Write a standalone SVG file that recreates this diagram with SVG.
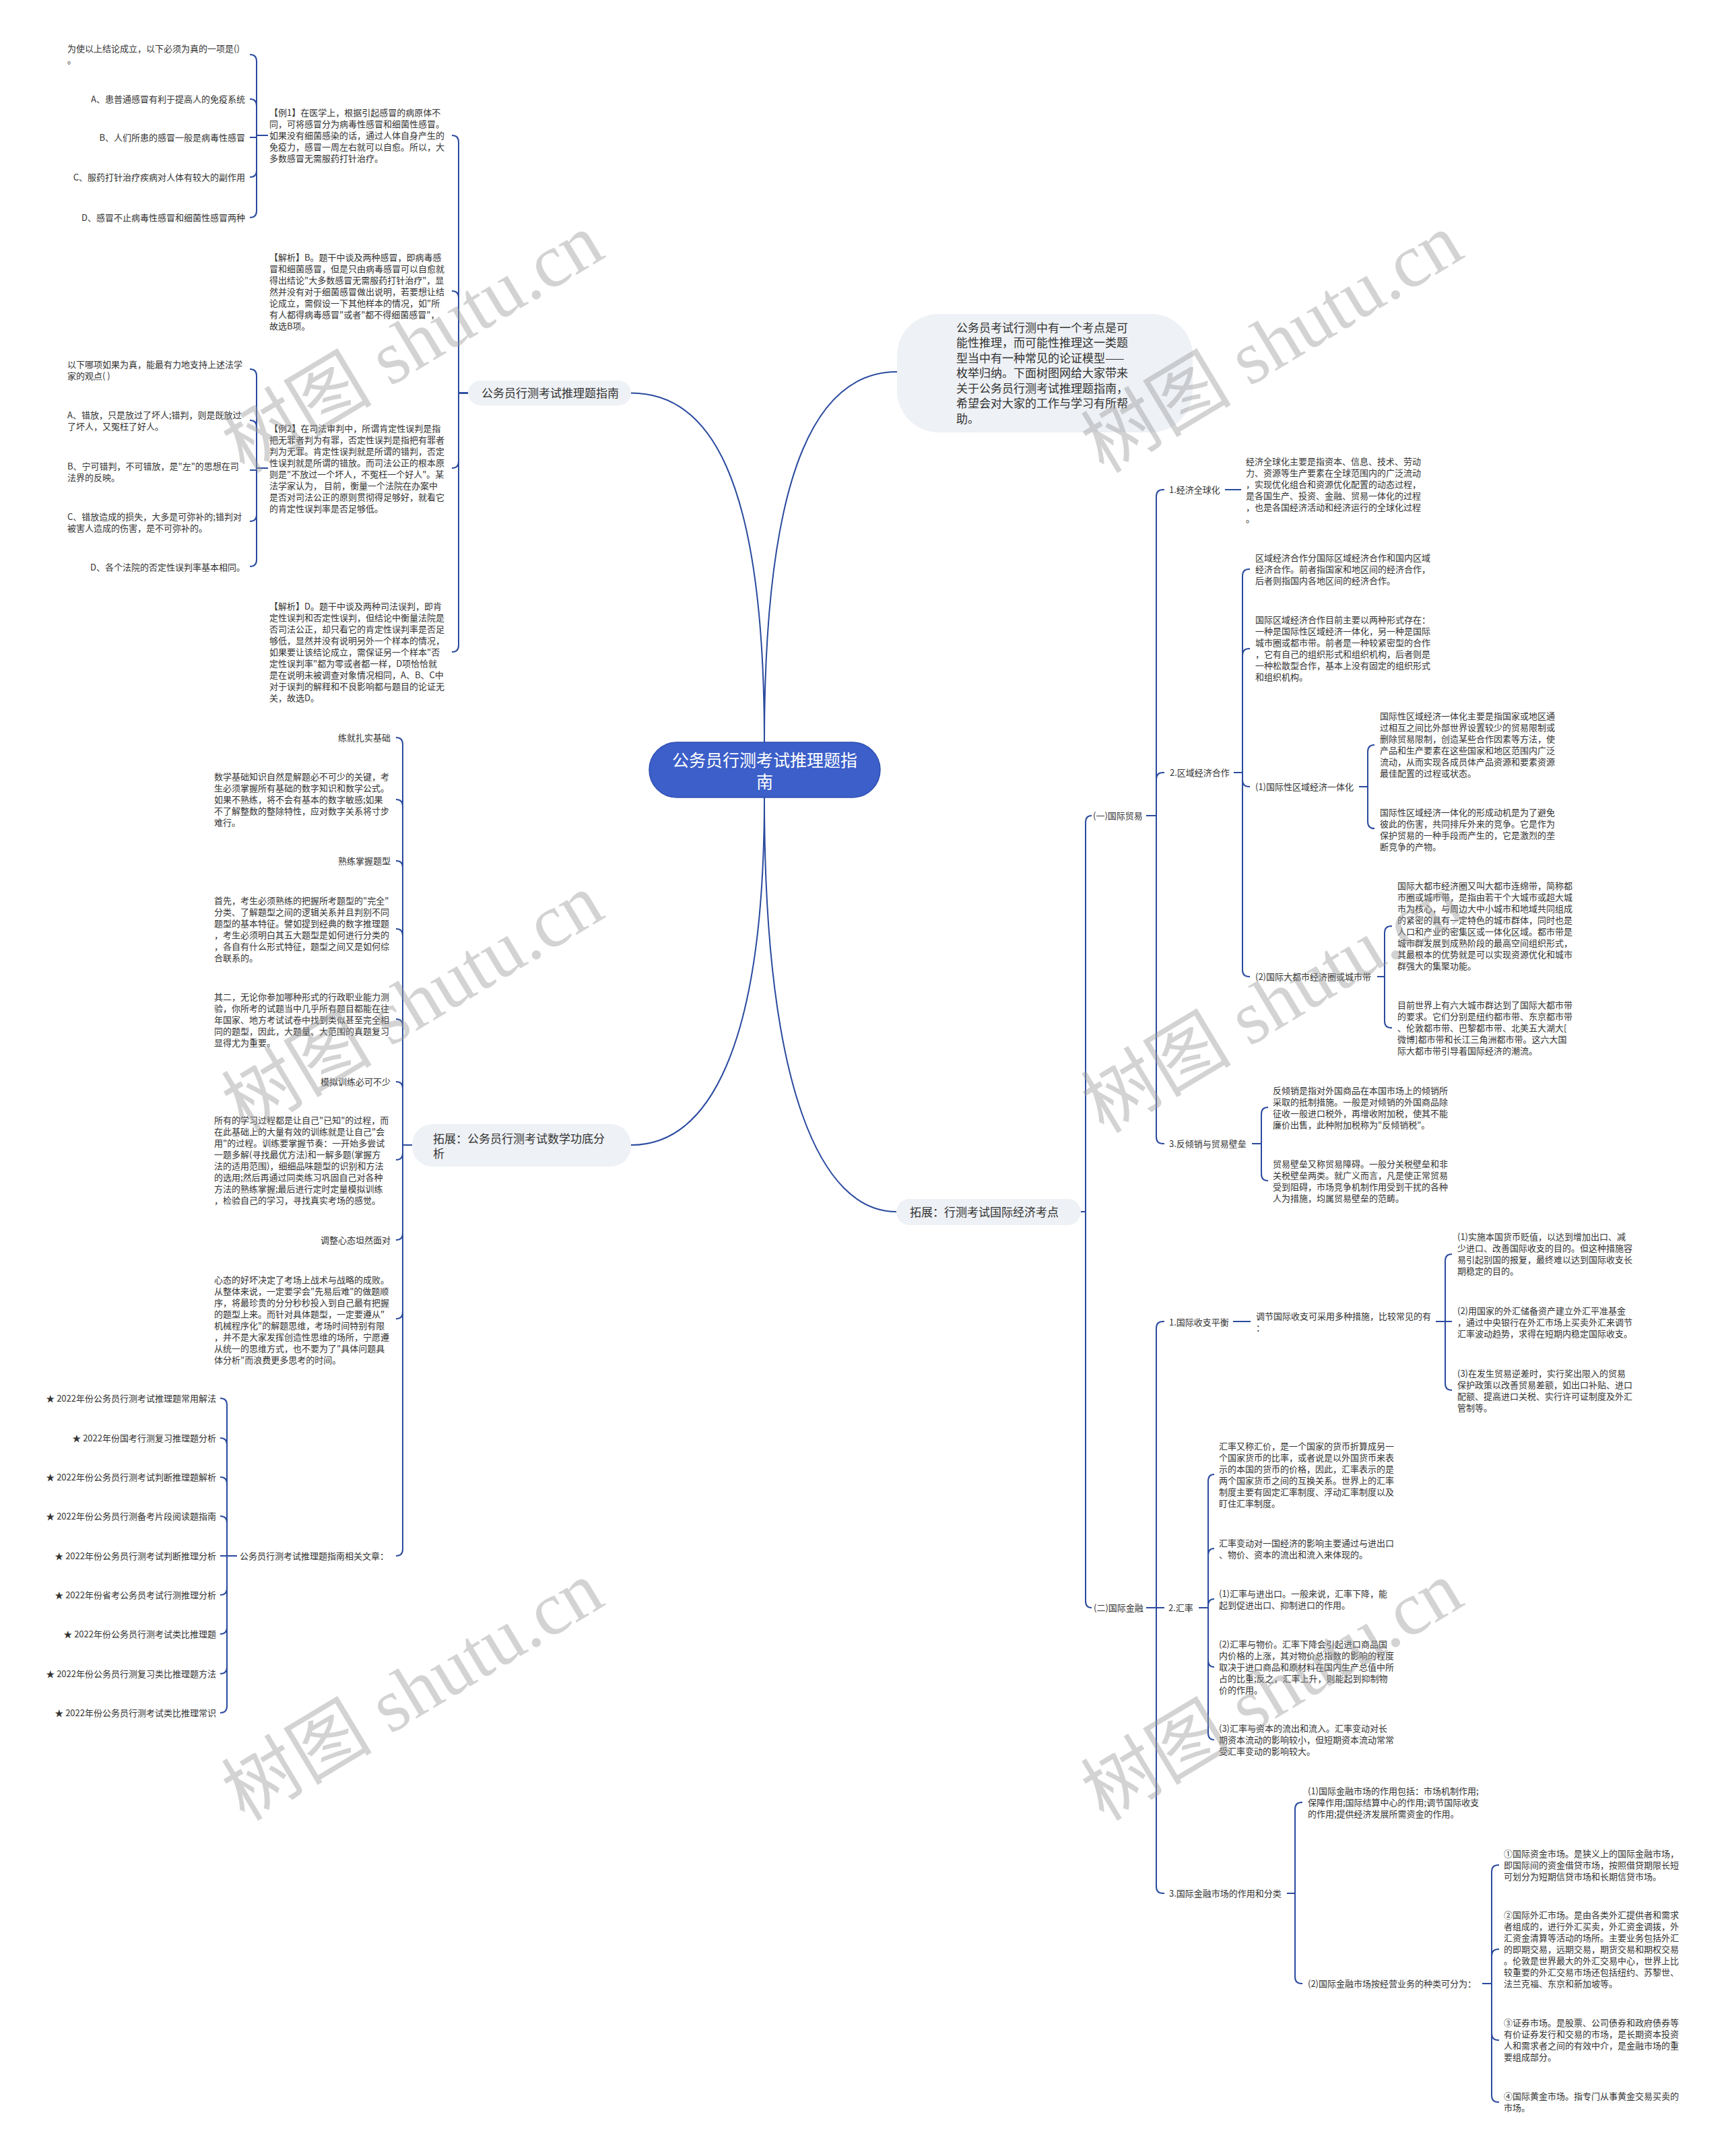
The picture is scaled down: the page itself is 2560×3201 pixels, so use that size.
<svg xmlns="http://www.w3.org/2000/svg" width="2560" height="3201" viewBox="0 0 2560 3201">
<style>
.t{font-family:"Noto Sans CJK SC","Noto Sans",sans-serif;font-size:13px;fill:#333}
.m{font-size:17px}
.e{text-anchor:end}
.r{font-family:"Noto Sans CJK SC","Noto Sans",sans-serif;font-size:25px;fill:#fff;text-anchor:middle}
.pill{fill:#eef1f5}
.c path{fill:none;stroke:#2a4a9e;stroke-width:2}
.wm{font-family:"Liberation Serif","Noto Sans CJK SC",serif;font-size:112px;fill:#999;opacity:.42}
</style>
<rect width="2560" height="3201" fill="#fff"/>
<g id="connectors" class="c">
<path d="M1135,1102 C1135,700 1050,583.5 937,583.5"/>
<path d="M1135,1102 C1135,680 1220,552 1332,552"/>
<path d="M1135,1184 C1135,1560 1050,1700 937,1700"/>
<path d="M1135,1184 C1135,1620 1220,1799 1331,1799"/>
<path d="M695,583.5H681V211Q681,201 671,201"/>
<path d="M695,583.5H681V442Q681,432 671,432"/>
<path d="M695,583.5H681V685Q681,695 671,695"/>
<path d="M695,583.5H681V958Q681,968 671,968"/>
<path d="M398,201H381V91Q381,81 371,81"/>
<path d="M398,201H381V157Q381,147 371,147"/>
<path d="M398,201H381V204H371"/>
<path d="M398,201H381V253Q381,263 371,263"/>
<path d="M398,201H381V313Q381,323 371,323"/>
<path d="M398,695H381V558Q381,548 371,548"/>
<path d="M398,695H381V634Q381,624 371,624"/>
<path d="M398,695H381V698H371"/>
<path d="M398,695H381V764Q381,774 371,774"/>
<path d="M398,695H381V831Q381,841 371,841"/>
<path d="M612,1700H598V1105Q598,1095 588,1095"/>
<path d="M612,1700H598V1197Q598,1187 588,1187"/>
<path d="M612,1700H598V1288Q598,1278 588,1278"/>
<path d="M612,1700H598V1389Q598,1379 588,1379"/>
<path d="M612,1700H598V1523Q598,1513 588,1513"/>
<path d="M612,1700H598V1616Q598,1606 588,1606"/>
<path d="M612,1700H598V1712Q598,1722 588,1722"/>
<path d="M612,1700H598V1831Q598,1841 588,1841"/>
<path d="M612,1700H598V1948Q598,1958 588,1958"/>
<path d="M612,1700H598V2300Q598,2310 588,2310"/>
<path d="M352,2310H337V2086Q337,2076 327,2076"/>
<path d="M352,2310H337V2145Q337,2135 327,2135"/>
<path d="M352,2310H337V2203Q337,2193 327,2193"/>
<path d="M352,2310H337V2261Q337,2251 327,2251"/>
<path d="M352,2310H327"/>
<path d="M352,2310H337V2358Q337,2368 327,2368"/>
<path d="M352,2310H337V2416Q337,2426 327,2426"/>
<path d="M352,2310H337V2475Q337,2485 327,2485"/>
<path d="M352,2310H337V2533Q337,2543 327,2543"/>
<path d="M1605,1799H1612V1221Q1612,1211 1621,1211"/>
<path d="M1605,1799H1612V2377Q1612,2387 1621,2387"/>
<path d="M1702,1211H1717V737Q1717,727 1727,727H1729"/>
<path d="M1702,1211H1717V1157Q1717,1147 1727,1147H1729"/>
<path d="M1702,1211H1717V1688Q1717,1698 1727,1698H1729"/>
<path d="M1819,727H1843"/>
<path d="M1832,1147H1845V855Q1845,845 1855,845H1856"/>
<path d="M1832,1147H1845V973Q1845,963 1855,963H1856"/>
<path d="M1832,1147H1845V1158Q1845,1168 1855,1168H1856"/>
<path d="M1832,1147H1845V1440Q1845,1450 1855,1450H1856"/>
<path d="M2018,1168H2031V1116Q2031,1106 2041,1106"/>
<path d="M2018,1168H2031V1220Q2031,1230 2041,1230"/>
<path d="M2045,1450H2056V1385Q2056,1375 2066,1375H2067"/>
<path d="M2045,1450H2056V1516Q2056,1526 2066,1526H2067"/>
<path d="M1859,1698H1873V1654Q1873,1644 1883,1644"/>
<path d="M1859,1698H1873V1743Q1873,1753 1883,1753"/>
<path d="M1702,2387H1717V1972Q1717,1962 1727,1962H1729"/>
<path d="M1702,2387H1729"/>
<path d="M1702,2387H1717V2801Q1717,2811 1727,2811H1729"/>
<path d="M1831,1962H1857"/>
<path d="M2132,1962H2146V1872Q2146,1862 2156,1862"/>
<path d="M2132,1962H2156"/>
<path d="M2132,1962H2146V2054Q2146,2064 2156,2064"/>
<path d="M1780,2387H1794V2199Q1794,2189 1803,2189"/>
<path d="M1780,2387H1794V2309Q1794,2299 1803,2299"/>
<path d="M1780,2387H1794V2384Q1794,2374 1803,2374"/>
<path d="M1780,2387H1794V2465Q1794,2475 1803,2475"/>
<path d="M1780,2387H1794V2573Q1794,2583 1803,2583"/>
<path d="M1911,2811H1923V2686Q1923,2676 1933,2676H1934"/>
<path d="M1911,2811H1923V2935Q1923,2945 1933,2945H1934"/>
<path d="M2201,2945H2215V2779Q2215,2769 2225,2769H2226"/>
<path d="M2201,2945H2215V2904Q2215,2894 2225,2894H2226"/>
<path d="M2201,2945H2215V3019Q2215,3029 2225,3029H2226"/>
<path d="M2201,2945H2215V3111Q2215,3121 2225,3121H2226"/>
</g>

<g id="root">
<rect x="964" y="1102" width="343" height="82" rx="41" fill="#3c5fc9" stroke="#2f4fb2" stroke-width="1.5"/>
<text class="r" x="1135.5" y="1137.5">公务员行测考试推理题指</text>
<text class="r" x="1135.5" y="1169.5">南</text>
</g>

<g id="branch-a">
<rect class="pill" x="695" y="565" width="242" height="37" rx="18.5"/>
<text class="t m" x="715" y="590">公务员行测考试推理题指南</text>
</g>
<g id="a-ex1">
<text class="t" x="400" y="172"><tspan x="400">【例1】在医学上，根据引起感冒的病原体不</tspan><tspan x="400" dy="17">同，可将感冒分为病毒性感冒和细菌性感冒。</tspan><tspan x="400" dy="17">如果没有细菌感染的话，通过人体自身产生的</tspan><tspan x="400" dy="17">免疫力，感冒一周左右就可以自愈。所以，大</tspan><tspan x="400" dy="17">多数感冒无需服药打针治疗。</tspan></text>
</g>
<g id="a-ex1-q"><text class="t" x="100" y="77"><tspan x="100">为使以上结论成立，以下必须为真的一项是()</tspan><tspan x="100" dy="17">。</tspan></text></g>
<g id="a-ex1-a"><text class="t e" x="364" y="152.3">A、患普通感冒有利于提高人的免疫系统</text></g>
<g id="a-ex1-b"><text class="t e" x="364" y="209.3">B、人们所患的感冒一般是病毒性感冒</text></g>
<g id="a-ex1-c"><text class="t e" x="364" y="268.3">C、服药打针治疗疾病对人体有较大的副作用</text></g>
<g id="a-ex1-d"><text class="t e" x="364" y="327.7">D、感冒不止病毒性感冒和细菌性感冒两种</text></g>
<g id="a-an1">
<text class="t" x="400" y="387"><tspan x="400">【解析】B。题干中谈及两种感冒，即病毒感</tspan><tspan x="400" dy="17">冒和细菌感冒，但是只由病毒感冒可以自愈就</tspan><tspan x="400" dy="17">得出结论"大多数感冒无需服药打针治疗"，显</tspan><tspan x="400" dy="17">然并没有对于细菌感冒做出说明，若要想让结</tspan><tspan x="400" dy="17">论成立，需假设一下其他样本的情况，如"所</tspan><tspan x="400" dy="17">有人都得病毒感冒"或者"都不得细菌感冒"，</tspan><tspan x="400" dy="17">故选B项。</tspan></text>
</g>
<g id="a-ex2">
<text class="t" x="400" y="641"><tspan x="400">【例2】在司法审判中，所谓肯定性误判是指</tspan><tspan x="400" dy="17">把无罪者判为有罪，否定性误判是指把有罪者</tspan><tspan x="400" dy="17">判为无罪。肯定性误判就是所谓的错判，否定</tspan><tspan x="400" dy="17">性误判就是所谓的错放。而司法公正的根本原</tspan><tspan x="400" dy="17">则是"不放过一个坏人，不冤枉一个好人"。某</tspan><tspan x="400" dy="17">法学家认为， 目前，衡量一个法院在办案中</tspan><tspan x="400" dy="17">是否对司法公正的原则贯彻得足够好，就看它</tspan><tspan x="400" dy="17">的肯定性误判率是否足够低。</tspan></text>
</g>
<g id="a-ex2-q"><text class="t" x="100" y="546"><tspan x="100">以下哪项如果为真，能最有力地支持上述法学</tspan><tspan x="100" dy="17">家的观点( )</tspan></text></g>
<g id="a-ex2-a"><text class="t" x="100" y="621"><tspan x="100">A、错放，只是放过了坏人;错判，则是既放过</tspan><tspan x="100" dy="17">了坏人，又冤枉了好人。</tspan></text></g>
<g id="a-ex2-b"><text class="t" x="100" y="697"><tspan x="100">B、宁可错判，不可错放，是"左"的思想在司</tspan><tspan x="100" dy="17">法界的反映。</tspan></text></g>
<g id="a-ex2-c"><text class="t" x="100" y="772"><tspan x="100">C、错放造成的损失，大多是可弥补的;错判对</tspan><tspan x="100" dy="17">被害人造成的伤害，是不可弥补的。</tspan></text></g>
<g id="a-ex2-d"><text class="t e" x="364" y="847">D、各个法院的否定性误判率基本相同。</text></g>
<g id="a-an2">
<text class="t" x="400" y="905"><tspan x="400">【解析】D。题干中谈及两种司法误判，即肯</tspan><tspan x="400" dy="17">定性误判和否定性误判，但结论中衡量法院是</tspan><tspan x="400" dy="17">否司法公正，却只看它的肯定性误判率是否足</tspan><tspan x="400" dy="17">够低，显然并没有说明另外一个样本的情况，</tspan><tspan x="400" dy="17">如果要让该结论成立，需保证另一个样本"否</tspan><tspan x="400" dy="17">定性误判率"都为零或者都一样，D项恰恰就</tspan><tspan x="400" dy="17">是在说明未被调查对象情况相同，A、B、C中</tspan><tspan x="400" dy="17">对于误判的解释和不良影响都与题目的论证无</tspan><tspan x="400" dy="17">关，故选D。</tspan></text>
</g>

<g id="branch-b">
<rect class="pill" x="612" y="1669" width="325" height="63" rx="30"/>
<text class="t m" x="643" y="1697"><tspan x="643">拓展：公务员行测考试数学功底分</tspan><tspan x="643" dy="22">析</tspan></text>
</g>
<g id="b1"><text class="t e" x="580" y="1099.7">练就扎实基础</text></g>
<g id="b2"><text class="t" x="318" y="1158"><tspan x="318">数学基础知识自然是解题必不可少的关键，考</tspan><tspan x="318" dy="17">生必须掌握所有基础的数字知识和数学公式。</tspan><tspan x="318" dy="17">如果不熟练，将不会有基本的数字敏感;如果</tspan><tspan x="318" dy="17">不了解整数的整除特性，应对数字关系将寸步</tspan><tspan x="318" dy="17">难行。</tspan></text></g>
<g id="b3"><text class="t e" x="580" y="1283.4">熟练掌握题型</text></g>
<g id="b4"><text class="t" x="318" y="1341.7"><tspan x="318">首先，考生必须熟练的把握所考题型的"完全"</tspan><tspan x="318" dy="17">分类、了解题型之间的逻辑关系并且判别不同</tspan><tspan x="318" dy="17">题型的基本特征。譬如提到经典的数字推理题</tspan><tspan x="318" dy="17">，考生必须明白其五大题型是如何进行分类的</tspan><tspan x="318" dy="17">，各自有什么形式特征，题型之间又是如何综</tspan><tspan x="318" dy="17">合联系的。</tspan></text></g>
<g id="b5"><text class="t" x="318" y="1484.6"><tspan x="318">其二，无论你参加哪种形式的行政职业能力测</tspan><tspan x="318" dy="17">验，你所考的试题当中几乎所有题目都能在往</tspan><tspan x="318" dy="17">年国家、地方考试试卷中找到类似甚至完全相</tspan><tspan x="318" dy="17">同的题型，因此，大题量、大范围的真题复习</tspan><tspan x="318" dy="17">显得尤为重要。</tspan></text></g>
<g id="b6"><text class="t e" x="580" y="1611">模拟训练必可不少</text></g>
<g id="b7"><text class="t" x="318" y="1668.3"><tspan x="318">所有的学习过程都是让自己"已知"的过程，而</tspan><tspan x="318" dy="17">在此基础上的大量有效的训练就是让自己"会</tspan><tspan x="318" dy="17">用"的过程。训练要掌握节奏：一开始多尝试</tspan><tspan x="318" dy="17">一题多解(寻找最优方法)和一解多题(掌握方</tspan><tspan x="318" dy="17">法的适用范围)，细细品味题型的识别和方法</tspan><tspan x="318" dy="17">的选用;然后再通过同类练习巩固自己对各种</tspan><tspan x="318" dy="17">方法的熟练掌握;最后进行定时定量模拟训练</tspan><tspan x="318" dy="17">，检验自己的学习，寻找真实考场的感觉。</tspan></text></g>
<g id="b8"><text class="t e" x="580" y="1845.7">调整心态坦然面对</text></g>
<g id="b9"><text class="t" x="318" y="1905"><tspan x="318">心态的好坏决定了考场上战术与战略的成败。</tspan><tspan x="318" dy="17">从整体来说，一定要学会"先易后难"的做题顺</tspan><tspan x="318" dy="17">序，将最珍贵的分分秒秒投入到自己最有把握</tspan><tspan x="318" dy="17">的题型上来。而针对具体题型，一定要遵从"</tspan><tspan x="318" dy="17">机械程序化"的解题思维，考场时间特别有限</tspan><tspan x="318" dy="17">，并不是大家发挥创造性思维的场所，宁愿遵</tspan><tspan x="318" dy="17">从统一的思维方式，也不要为了"具体问题具</tspan><tspan x="318" dy="17">体分析"而浪费更多思考的时间。</tspan></text></g>
<g id="b10"><text class="t" x="356" y="2314.6">公务员行测考试推理题指南相关文章：</text></g>
<g id="rel1"><text class="t e" x="321" y="2080.7">★ 2022年份公务员行测考试推理题常用解法</text></g>
<g id="rel2"><text class="t e" x="321" y="2139.6">★ 2022年份国考行测复习推理题分析</text></g>
<g id="rel3"><text class="t e" x="321" y="2197.9">★ 2022年份公务员行测考试判断推理题解析</text></g>
<g id="rel4"><text class="t e" x="321" y="2256.4">★ 2022年份公务员行测备考片段阅读题指南</text></g>
<g id="rel5"><text class="t e" x="321" y="2314.6">★ 2022年份公务员行测考试判断推理分析</text></g>
<g id="rel6"><text class="t e" x="321" y="2372.9">★ 2022年份省考公务员考试行测推理分析</text></g>
<g id="rel7"><text class="t e" x="321" y="2430.7">★ 2022年份公务员行测考试类比推理题</text></g>
<g id="rel8"><text class="t e" x="321" y="2489.6">★ 2022年份公务员行测复习类比推理题方法</text></g>
<g id="rel9"><text class="t e" x="321" y="2547.9">★ 2022年份公务员行测考试类比推理常识</text></g>

<g id="intro">
<rect class="pill" x="1332" y="466" width="439" height="176" rx="62"/>
<text class="t m" x="1420" y="492.5"><tspan x="1420">公务员考试行测中有一个考点是可</tspan><tspan x="1420" dy="22.5">能性推理，而可能性推理这一类题</tspan><tspan x="1420" dy="22.5">型当中有一种常见的论证模型——</tspan><tspan x="1420" dy="22.5">枚举归纳。下面树图网给大家带来</tspan><tspan x="1420" dy="22.5">关于公务员行测考试推理题指南，</tspan><tspan x="1420" dy="22.5">希望会对大家的工作与学习有所帮</tspan><tspan x="1420" dy="22.5">助。</tspan></text>
</g>

<g id="branch-c">
<rect class="pill" x="1331" y="1780" width="274" height="39" rx="19.5"/>
<text class="t m" x="1351" y="1805.5">拓展：行测考试国际经济考点</text>
</g>
<g id="c1"><text class="t" x="1623" y="1216">(一)国际贸易</text></g>
<g id="c11"><text class="t" x="1736" y="731.7">1.经济全球化</text></g>
<g id="c111"><text class="t" x="1850" y="690"><tspan x="1850">经济全球化主要是指资本、信息、技术、劳动</tspan><tspan x="1850" dy="17">力、资源等生产要素在全球范围内的广泛流动</tspan><tspan x="1850" dy="17">，实现优化组合和资源优化配置的动态过程，</tspan><tspan x="1850" dy="17">是各国生产、投资、金融、贸易一体化的过程</tspan><tspan x="1850" dy="17">，也是各国经济活动和经济运行的全球化过程</tspan><tspan x="1850" dy="17">。</tspan></text></g>
<g id="c12"><text class="t" x="1737" y="1152">2.区域经济合作</text></g>
<g id="c121"><text class="t" x="1864" y="832.7"><tspan x="1864">区域经济合作分国际区域经济合作和国内区域</tspan><tspan x="1864" dy="17">经济合作。前者指国家和地区间的经济合作，</tspan><tspan x="1864" dy="17">后者则指国内各地区间的经济合作。</tspan></text></g>
<g id="c122"><text class="t" x="1864" y="925.2"><tspan x="1864">国际区域经济合作目前主要以两种形式存在：</tspan><tspan x="1864" dy="17">一种是国际性区域经济一体化，另一种是国际</tspan><tspan x="1864" dy="17">城市圈或都市带。前者是一种较紧密型的合作</tspan><tspan x="1864" dy="17">，它有自己的组织形式和组织机构，后者则是</tspan><tspan x="1864" dy="17">一种松散型合作，基本上没有固定的组织形式</tspan><tspan x="1864" dy="17">和组织机构。</tspan></text></g>
<g id="c123"><text class="t" x="1864" y="1173">(1)国际性区域经济一体化</text></g>
<g id="c1231"><text class="t" x="2049" y="1068.3"><tspan x="2049">国际性区域经济一体化主要是指国家或地区通</tspan><tspan x="2049" dy="17">过相互之间比外部世界设置较少的贸易限制或</tspan><tspan x="2049" dy="17">删除贸易限制，创造某些合作因素等方法，使</tspan><tspan x="2049" dy="17">产品和生产要素在这些国家和地区范围内广泛</tspan><tspan x="2049" dy="17">流动，从而实现各成员体产品资源和要素资源</tspan><tspan x="2049" dy="17">最佳配置的过程或状态。</tspan></text></g>
<g id="c1232"><text class="t" x="2049" y="1211.4"><tspan x="2049">国际性区域经济一体化的形成动机是为了避免</tspan><tspan x="2049" dy="17">彼此的伤害，共同排斥外来的竞争。它是作为</tspan><tspan x="2049" dy="17">保护贸易的一种手段而产生的，它是激烈的垄</tspan><tspan x="2049" dy="17">断竞争的产物。</tspan></text></g>
<g id="c124"><text class="t" x="1864" y="1455">(2)国际大都市经济圈或城市带</text></g>
<g id="c1241"><text class="t" x="2075" y="1320.1"><tspan x="2075">国际大都市经济圈又叫大都市连绵带，简称都</tspan><tspan x="2075" dy="17">市圈或城市带，是指由若干个大城市或超大城</tspan><tspan x="2075" dy="17">市为核心，与周边大中小城市和地域共同组成</tspan><tspan x="2075" dy="17">的紧密的具有一定特色的城市群体，同时也是</tspan><tspan x="2075" dy="17">人口和产业的密集区或一体化区域。都市带是</tspan><tspan x="2075" dy="17">城市群发展到成熟阶段的最高空间组织形式，</tspan><tspan x="2075" dy="17">其最根本的优势就是可以实现资源优化和城市</tspan><tspan x="2075" dy="17">群强大的集聚功能。</tspan></text></g>
<g id="c1242"><text class="t" x="2075" y="1497.3"><tspan x="2075">目前世界上有六大城市群达到了国际大都市带</tspan><tspan x="2075" dy="17">的要求。它们分别是纽约都市带、东京都市带</tspan><tspan x="2075" dy="17">、伦敦都市带、巴黎都市带、北美五大湖大[</tspan><tspan x="2075" dy="17">微博]都市带和长江三角洲都市带。这六大国</tspan><tspan x="2075" dy="17">际大都市带引导着国际经济的潮流。</tspan></text></g>
<g id="c13"><text class="t" x="1736" y="1703.4">3.反倾销与贸易壁垒</text></g>
<g id="c131"><text class="t" x="1890" y="1623.5"><tspan x="1890">反倾销是指对外国商品在本国市场上的倾销所</tspan><tspan x="1890" dy="17">采取的抵制措施。一般是对倾销的外国商品除</tspan><tspan x="1890" dy="17">征收一般进口税外，再增收附加税，使其不能</tspan><tspan x="1890" dy="17">廉价出售，此种附加税称为"反倾销税"。</tspan></text></g>
<g id="c132"><text class="t" x="1890" y="1733"><tspan x="1890">贸易壁垒又称贸易障碍。一般分关税壁垒和非</tspan><tspan x="1890" dy="17">关税壁垒两类。就广义而言，凡是使正常贸易</tspan><tspan x="1890" dy="17">受到阻碍，市场竞争机制作用受到干扰的各种</tspan><tspan x="1890" dy="17">人为措施，均属贸易壁垒的范畴。</tspan></text></g>

<g id="c2"><text class="t" x="1624" y="2392">(二)国际金融</text></g>
<g id="c21"><text class="t" x="1736" y="1967.5">1.国际收支平衡</text></g>
<g id="c211"><text class="t" x="1865" y="1959.2"><tspan x="1865">调节国际收支可采用多种措施，比较常见的有</tspan><tspan x="1865" dy="17">：</tspan></text></g>
<g id="c2111"><text class="t" x="2164" y="1841"><tspan x="2164">(1)实施本国货币贬值，以达到增加出口、减</tspan><tspan x="2164" dy="17">少进口、改善国际收支的目的。但这种措施容</tspan><tspan x="2164" dy="17">易引起别国的报复，最终难以达到国际收支长</tspan><tspan x="2164" dy="17">期稳定的目的。</tspan></text></g>
<g id="c2112"><text class="t" x="2164" y="1950.5"><tspan x="2164">(2)用国家的外汇储备资产建立外汇平准基金</tspan><tspan x="2164" dy="17">，通过中央银行在外汇市场上买卖外汇来调节</tspan><tspan x="2164" dy="17">汇率波动趋势，求得在短期内稳定国际收支。</tspan></text></g>
<g id="c2113"><text class="t" x="2164" y="2043.5"><tspan x="2164">(3)在发生贸易逆差时，实行奖出限入的贸易</tspan><tspan x="2164" dy="17">保护政策以改善贸易差额，如出口补贴、进口</tspan><tspan x="2164" dy="17">配额、提高进口关税、实行许可证制度及外汇</tspan><tspan x="2164" dy="17">管制等。</tspan></text></g>
<g id="c22"><text class="t" x="1735" y="2392">2.汇率</text></g>
<g id="c221"><text class="t" x="1810" y="2151.8"><tspan x="1810">汇率又称汇价，是一个国家的货币折算成另一</tspan><tspan x="1810" dy="17">个国家货币的比率，或者说是以外国货币来表</tspan><tspan x="1810" dy="17">示的本国的货币的价格，因此，汇率表示的是</tspan><tspan x="1810" dy="17">两个国家货币之间的互换关系。世界上的汇率</tspan><tspan x="1810" dy="17">制度主要有固定汇率制度、浮动汇率制度以及</tspan><tspan x="1810" dy="17">盯住汇率制度。</tspan></text></g>
<g id="c222"><text class="t" x="1810" y="2295.7"><tspan x="1810">汇率变动对一国经济的影响主要通过与进出口</tspan><tspan x="1810" dy="17">、物价、资本的流出和流入来体现的。</tspan></text></g>
<g id="c223"><text class="t" x="1810" y="2370.7"><tspan x="1810">(1)汇率与进出口。一般来说，汇率下降，能</tspan><tspan x="1810" dy="17">起到促进出口、抑制进口的作用。</tspan></text></g>
<g id="c224"><text class="t" x="1810" y="2445.7"><tspan x="1810">(2)汇率与物价。汇率下降会引起进口商品国</tspan><tspan x="1810" dy="17">内价格的上涨，其对物价总指数的影响的程度</tspan><tspan x="1810" dy="17">取决于进口商品和原材料在国内生产总值中所</tspan><tspan x="1810" dy="17">占的比重;反之，汇率上升，则能起到抑制物</tspan><tspan x="1810" dy="17">价的作用。</tspan></text></g>
<g id="c225"><text class="t" x="1810" y="2571.4"><tspan x="1810">(3)汇率与资本的流出和流入。汇率变动对长</tspan><tspan x="1810" dy="17">期资本流动的影响较小，但短期资本流动常常</tspan><tspan x="1810" dy="17">受汇率变动的影响较大。</tspan></text></g>
<g id="c23"><text class="t" x="1736" y="2816">3.国际金融市场的作用和分类</text></g>
<g id="c231"><text class="t" x="1942" y="2663.6"><tspan x="1942">(1)国际金融市场的作用包括：市场机制作用;</tspan><tspan x="1942" dy="17">保障作用;国际结算中心的作用;调节国际收支</tspan><tspan x="1942" dy="17">的作用;提供经济发展所需资金的作用。</tspan></text></g>
<g id="c232"><text class="t" x="1942" y="2950.2">(2)国际金融市场按经营业务的种类可分为：</text></g>
<g id="c2321"><text class="t" x="2233" y="2756.6"><tspan x="2233">①国际资金市场。是狭义上的国际金融市场，</tspan><tspan x="2233" dy="17">即国际间的资金借贷市场，按照借贷期限长短</tspan><tspan x="2233" dy="17">可划分为短期信贷市场和长期信贷市场。</tspan></text></g>
<g id="c2322"><text class="t" x="2233" y="2848.2"><tspan x="2233">②国际外汇市场。是由各类外汇提供者和需求</tspan><tspan x="2233" dy="17">者组成的，进行外汇买卖，外汇资金调拨，外</tspan><tspan x="2233" dy="17">汇资金清算等活动的场所。主要业务包括外汇</tspan><tspan x="2233" dy="17">的即期交易，远期交易，期货交易和期权交易</tspan><tspan x="2233" dy="17">。伦敦是世界最大的外汇交易中心，世界上比</tspan><tspan x="2233" dy="17">较重要的外汇交易市场还包括纽约、苏黎世、</tspan><tspan x="2233" dy="17">法兰克福、东京和新加坡等。</tspan></text></g>
<g id="c2323"><text class="t" x="2233" y="3008.1"><tspan x="2233">③证券市场。是股票、公司债券和政府债券等</tspan><tspan x="2233" dy="17">有价证券发行和交易的市场，是长期资本投资</tspan><tspan x="2233" dy="17">人和需求者之间的有效中介，是金融市场的重</tspan><tspan x="2233" dy="17">要组成部分。</tspan></text></g>
<g id="c2324"><text class="t" x="2233" y="3117.3"><tspan x="2233">④国际黄金市场。指专门从事黄金交易买卖的</tspan><tspan x="2233" dy="17">市场。</tspan></text></g>

<g id="watermarks">
<text class="wm" transform="translate(363,704) rotate(-31)">树图 shutu.cn</text>
<text class="wm" transform="translate(1639,704) rotate(-31)">树图 shutu.cn</text>
<text class="wm" transform="translate(363,1684) rotate(-31)">树图 shutu.cn</text>
<text class="wm" transform="translate(1639,1684) rotate(-31)">树图 shutu.cn</text>
<text class="wm" transform="translate(363,2705) rotate(-31)">树图 shutu.cn</text>
<text class="wm" transform="translate(1639,2705) rotate(-31)">树图 shutu.cn</text>
</g>
</svg>
